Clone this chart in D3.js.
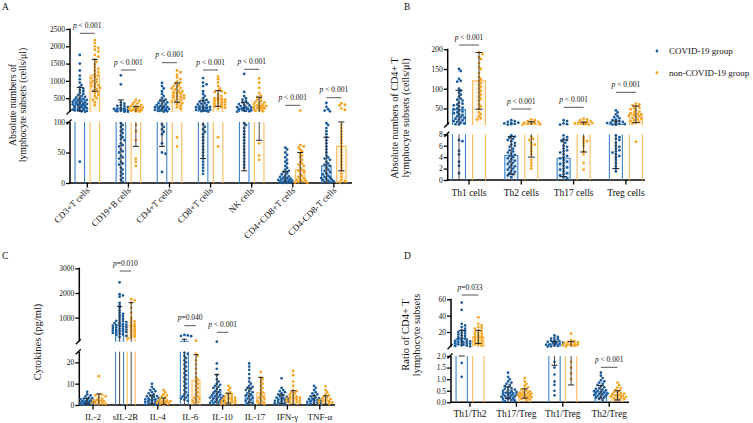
<!DOCTYPE html>
<html><head><meta charset="utf-8">
<script src="https://cdn.jsdelivr.net/npm/d3@7"></script>
<style>
body{margin:0;background:#fff}
svg{display:block}
text{font-family:"Liberation Serif","Times New Roman",serif;fill:#111}
</style>
</head><body>
<svg id="chart" width="753" height="423"></svg>
<script>
// ---------------- DATA ----------------
const groups = ["COVID-19 group", "non-COVID-19 group"];

// Panel A
const catsA = ["CD3+T cells","CD19+B cells","CD4+T cells","CD8+T cells","NK cells","CD4+CD8+T cells","CD4-CD8-T cells"];
const meanA_covid = [470, 200, 250, 240, 200, 7, 28];
const sdA_covid   = [340, 250, 190, 200, 180, 12, 47];
const meanA_non   = [1160, 160, 660, 490, 300, 22, 60];
const sdA_non     = [460, 100, 280, 226, 230, 28, 40];
const ptsA_covid = [
  [1750,1500,1300,1150,1050,950,880,820,780,740,700,660,620,590,560,540,520,500,480,460,450,440,420,400,390,380,370,360,350,340,330,320,310,300,290,280,270,260,250,240,230,220,210,200,190,180,170,160,150,140,130,120,110,35],
  [1160,900,380,340,300,280,260,240,220,200,190,180,170,160,150,140,130,120,110,105,98,95,92,88,85,82,78,75,72,70,65,62,60,55,52,50,45,42,40,35,32,30,25,22,18,15,12,8,5,2],
  [940,850,780,700,620,560,500,460,430,400,380,360,340,320,300,280,260,250,240,230,220,210,200,190,180,170,160,150,140,130,120,110,96,92,88,84,80,65,50,48,18],
  [1080,950,900,850,700,620,560,500,450,420,400,380,360,340,320,300,280,260,250,240,230,220,210,200,190,180,170,160,150,140,130,120,110,96,92,88,84,80,75,70,65,60,55,50,45,40,35,30,25,20,15],
  [1200,680,560,500,460,420,380,350,330,310,290,270,250,240,230,220,210,200,190,180,170,160,150,140,130,120,110,98,95,90,85,80,75,70,65,60,55,50,45,40,35,30,25],
  [58,55,50,46,42,38,35,32,28,25,22,20,18,16,14,12,11,10,9,8,7,6,5,5,4,4,3,3,2,2,2,1,1,1,0.5,0.5,0.3,0.2],
  [360,250,180,140,120,98,95,90,85,80,75,70,65,60,55,50,45,42,40,38,35,32,30,28,25,22,20,18,16,14,12,10,9,8,7,6,5,4,3,2,1]
];
const ptsA_non = [
  [2180,2100,2000,1950,1900,1850,1750,1700,1620,1550,1480,1400,1350,1300,1250,1200,1150,1120,1080,1050,1000,970,940,900,870,850,820,800,760,720,690,650,600,560,500,450,380,300],
  [450,420,380,350,320,300,280,260,240,230,220,210,200,190,180,170,160,150,140,130,120,110,95,85,70,40,35,28],
  [1300,1250,1180,1100,1050,980,950,920,880,850,820,800,780,750,720,700,680,650,630,600,580,560,540,520,500,480,450,420,400,380,350,320,280,240,200,75,60],
  [1130,1050,950,850,780,720,700,680,650,600,560,520,500,480,460,440,420,400,380,360,340,320,300,280,260,240,220,200,75,60],
  [1070,950,800,650,580,540,500,460,420,400,380,360,340,320,300,280,260,250,240,230,220,210,200,180,160,140,120,65,45,38],
  [140,62,60,58,55,52,48,45,42,38,35,32,30,28,25,22,20,18,15,12,10,8,6,5,4,3,2,1,0.5],
  [350,310,290,200,160,95,90,85,80,75,70,65,60,55,50,45,40,35,30,25,20,15,10,5,3,1]
];
const pTextA = ["p < 0.001","p < 0.001","p < 0.001","p < 0.001","p < 0.001","p < 0.001","p < 0.001"];

// Panel B
const catsB = ["Th1 cells","Th2 cells","Th17 cells","Treg cells"];
const meanB_covid = [47, 4.3, 3.8, 10];
const sdB_covid   = [49, 3.3, 3.2, 8];
const meanB_non   = [120, 10, 10, 35];
const sdB_non     = [72, 6, 5.1, 21];
const ptsB_covid = [
  [150,145,125,120,118,100,95,90,85,80,75,72,70,65,62,60,58,55,52,50,48,45,42,40,38,35,33,30,28,26,24,22,20,18,16,14,12,10,9,7,6.8,5.1,4.5,3.2,2.5,1.2],
  [20,18,16,14,13,12,11,10,9,7.8,7.6,7.4,7.2,7,6.8,6.5,6.2,6,5.8,5.5,5.2,5,4.8,4.6,4.4,4.2,4,3.8,3.6,3.4,3.2,3,2.8,2.6,2.4,2.2,2,1.8,1.6,1.4,1.2,1,0.8,0.5],
  [20,18,12,10,9,7.8,7.5,7.2,7,6.8,6.5,6,5.8,5.5,5.2,5,4.8,4.5,4.2,4,3.8,3.5,3.2,3,2.8,2.5,2.2,2,1.8,1.5,1.2,1,0.8,0.5,0.3],
  [45,40,35,30,28,25,22,20,18,16,15,14,13,12,11,10,9,8.5,7.8,7.5,7.2,7,6.5,6,5.8,5.5,5.2,5,4.8,4.5,4.2,4,3.5,3,2.5,2,1.5]
];
const ptsB_non = [
  [192,188,180,175,165,155,150,140,130,125,120,115,110,105,100,95,90,85,80,75,70,60,55,50,40,35,30,25,22],
  [22,20,18,16,15,14,13,12,11,10,9,7.6,7.2,7,6.5,6.2,6,5.5,5,4.5,3.5,3,2.5,2],
  [24,22,20,18,16,15,14,13,12,11,10,9,7.5,7,6.8,6.5,6,5,4.5,3,1.8],
  [62,60,58,55,52,50,48,45,42,40,38,36,35,33,32,30,28,26,24,22,20,18,16,14,12,6.7]
];
const pTextB = ["p < 0.001","p < 0.001","p < 0.001","p < 0.001"];

// Panel C
const catsC = ["IL-2","sIL-2R","IL-4","IL-6","IL-10","IL-17","IFN-γ","TNF-α"];
const meanC_covid = [1.8, 700, 2.5, 45, 6.2, 4.5, 2.8, 2.3];
const sdC_covid   = [1.3, 750, 2, 80, 8.2, 3.5, 2, 2];
const meanC_non   = [2.2, 680, 1.8, 11.6, 3.2, 5.7, 3.5, 2.3];
const sdC_non     = [3.0, 930, 1.5, 12, 2.3, 7.2, 3.2, 2];
const ptsC_covid = [
  [6.2,5,4.5,4,3.5,3.2,3,2.8,2.6,2.4,2.2,2,1.9,1.8,1.7,1.6,1.5,1.4,1.3,1.2,1.1,1,0.9,0.8,0.6,0.5,0.4,0.3,0.2],
  [2430,1950,1900,1850,1600,1500,1400,1300,1200,1150,1100,1050,1000,950,900,870,850,820,800,780,760,740,720,700,680,660,640,620,600,580,560,540,520,500,480,460,440,420,400,380,350,320,300,260,220],
  [10,8.5,7.5,7,6.5,6,5.5,5,4.5,4.2,4,3.8,3.5,3.2,3,2.8,2.6,2.4,2.2,2,1.8,1.6,1.4,1.2,1,0.8,0.6,0.4,0.2],
  [300,280,260,250,24.5,24,23,22,21,20,19,18,17,16,15,14,13,12,11,10,9,8,7,6,5,4.5,4,3.5,3,2.5,2],
  [28,19.5,17,14,12,11,10,9.5,9,8.5,8,7.5,7,6.5,6,5.5,5,4.8,4.5,4.2,4,3.8,3.5,3.2,3,2.8,2.5,2.2,2,1.8,1.5,1.2,1,0.5],
  [19.5,18,16.5,14.5,12.5,11,10,9,8.5,8,7.5,7,6.5,6,5.5,5,4.5,4,3.5,3,2.5,2,1.5,1,0.5],
  [12.5,8,7,6.5,6,5.5,5,4.5,4,3.8,3.5,3.2,3,2.8,2.5,2.2,2,1.8,1.5,1.2,1,0.8,0.5],
  [9,8,7,6,5.5,5,4.5,4,3.5,3.2,3,2.8,2.5,2.2,2,1.8,1.5,1.2,1,0.8,0.5,0.3]
];
const ptsC_non = [
  [13.5,5,4.8,4.5,4,3.5,3,2.5,2.2,2,1.8,1.5,1.2,1,0.8,0.5,0.3],
  [1750,1700,1600,1400,1200,1000,900,850,800,750,700,650,600,550,500,450,400,350,300,250,200,160],
  [7,6,5,4.5,4,3.5,3,2.5,2.2,2,1.8,1.6,1.4,1.2,1,0.8,0.6,0.4,0.2],
  [65,24,23,21,19,17,15,13,12,11,10,9,8,7,6,5,4,3.5,3,2.5,2,1.5,1],
  [9,8,7,6,5.5,5,4.5,4,3.8,3.5,3.2,3,2.8,2.5,2.2,2,1.8,1.5,1.2,1,0.8,0.5],
  [15.5,13,12,11,10,9,8,7,6,5,4,3.5,3,2.5,2,1.5,1,0.5],
  [16,14,11,9,7,6.5,6,5.5,5,4.5,4,3.8,3.5,3.2,3,2.8,2.5,2.2,2,1.8,1.5,1.2,1,0.5],
  [8.8,7,6,5,4.5,4,3.5,3,2.8,2.5,2.2,2,1.8,1.5,1.2,1,0.8,0.5]
];
const pTextC = [null,"p=0.010",null,"p=0.040","p < 0.001",null,null,null];

// Panel D
const catsD = ["Th1/Th2","Th17/Treg","Th1/Treg","Th2/Treg"];
const meanD_covid = [12, 0.42, 5, 0.45];
const sdD_covid   = [10, 0.25, 3.4, 0.27];
const meanD_non   = [14, 0.38, 4.5, 0.3];
const sdD_non     = [8, 0.2, 3.75, 0.2];
const ptsD_covid = [
  [56,47,30,28,26,24,22,21,20,19,18,17,16,15,14,13,12,11,10,9.5,9,8.5,8,7.5,7,6.5,6,5.5,5,4.5,4,3.5,3,2.5,1.7,1.1],
  [1.28,1.1,1.0,0.9,0.85,0.8,0.75,0.7,0.65,0.6,0.58,0.55,0.52,0.5,0.48,0.45,0.42,0.4,0.38,0.36,0.34,0.32,0.3,0.28,0.26,0.24,0.22,0.2,0.18,0.15,0.12,0.1,0.08,0.05],
  [16,14,13,12,11,10,9,8.5,8,7.5,7,6.5,6,5.5,5,4.5,4,3.5,3,2.5,2.2,1.75,1.5,1.2,0.9,0.75,0.5,0.3],
  [1.28,1.15,1.05,0.95,0.9,0.85,0.8,0.75,0.7,0.65,0.6,0.58,0.55,0.52,0.5,0.48,0.45,0.42,0.4,0.38,0.36,0.34,0.32,0.3,0.28,0.25,0.22,0.2,0.15,0.1]
];
const ptsD_non = [
  [38,30,28,26,25,24,22,21,20,19,18,17,16,15,14,13,12,11,10,9,8,7,6,5,4,3],
  [1.05,0.9,0.8,0.72,0.65,0.6,0.55,0.5,0.48,0.45,0.42,0.4,0.38,0.36,0.34,0.32,0.3,0.28,0.26,0.24,0.22,0.2,0.18,0.15,0.12,0.1],
  [18,10,9,8,7.5,7,6.5,6,5.5,5,4.5,4,3.5,3,2.5,1.75,1.5,1.25,1.0],
  [0.85,0.75,0.65,0.6,0.55,0.5,0.45,0.42,0.4,0.38,0.35,0.32,0.3,0.28,0.26,0.24,0.22,0.2,0.18,0.15,0.12,0.1]
];
const pTextD = ["p=0.033",null,null,"p < 0.001"];

// ---------------- STYLE / LAYOUT ----------------
const COL = {
  covid: {pt:"#1b5a9b", bar:"#3d84cb", fill:"rgba(90,150,215,0.16)"},
  non:   {pt:"#f7a21c", bar:"#fbbc5e", fill:"rgba(252,190,100,0.16)"}
};
const svg = d3.select("#chart");

function drawPanel(cfg){
  const g = svg.append("g");
  const lo = d3.scaleLinear().domain(cfg.loDom).range(cfg.loRange);
  const hi = d3.scaleLinear().domain(cfg.hiDom).range(cfg.hiRange);
  const loMax = cfg.loDom[1], hiMin = cfg.hiDom[0];
  const yv = v => v <= loMax ? lo(v) : hi(Math.max(v, hiMin));
  const n = cfg.cats.length;
  const x = d3.scaleLinear().domain([0, n-1]).range([cfg.cat0, cfg.cat0 + cfg.step*(n-1)]);
  const bw = cfg.barW, off = cfg.off;

  // axes
  const yAxLo = d3.axisLeft(lo).tickValues(cfg.loTicks).tickSize(4).tickFormat(cfg.fmt || d3.format("d"));
  const yAxHi = d3.axisLeft(hi).tickValues(cfg.hiTicks).tickSize(4).tickFormat(d3.format("d"));
  [yAxLo, yAxHi].forEach(ax=>{
    const a = g.append("g").attr("transform",`translate(${cfg.axisX},0)`).call(ax);
    a.attr("font-family",null);
    a.select(".domain").remove();
    a.selectAll(".tick line").attr("stroke","#000").attr("stroke-width",1.3);
    a.selectAll(".tick text").attr("font-size",7.5).attr("x",-5).attr("fill","#111");
  });
  // axis lines (broken)
  g.append("line").attr("x1",cfg.axisX).attr("x2",cfg.axisX).attr("y1",cfg.loRange[0]+0.6).attr("y2",cfg.loRange[1]).attr("stroke","#000").attr("stroke-width",1.5);
  g.append("line").attr("x1",cfg.axisX).attr("x2",cfg.axisX).attr("y1",cfg.hiRange[0]).attr("y2",cfg.hiRange[1]-0.6).attr("stroke","#000").attr("stroke-width",1.5);
  // break marks
  [cfg.loRange[1], cfg.hiRange[0]].forEach(yy=>{
    g.append("line").attr("x1",cfg.axisX-3.5).attr("y1",yy+2.5).attr("x2",cfg.axisX+1.5).attr("y2",yy-2.5)
      .attr("stroke","#000").attr("stroke-width",1.3);
  });
  // x axis
  g.append("line").attr("x1",cfg.axisX-0.75).attr("x2",cfg.xEnd).attr("y1",cfg.loRange[0]).attr("y2",cfg.loRange[0]).attr("stroke","#000").attr("stroke-width",1.5);
  cfg.cats.forEach((c,i)=>{
    g.append("line").attr("x1",x(i)).attr("x2",x(i)).attr("y1",cfg.loRange[0]).attr("y2",cfg.loRange[0]+4.5).attr("stroke","#000").attr("stroke-width",1.3);
    const t = g.append("text").text(c).attr("font-size",cfg.xFont);
    if(cfg.rotate){
      t.attr("text-anchor","end").attr("transform",`translate(${x(i)+3},${cfg.loRange[0]+8}) rotate(-45)`);
    } else {
      t.attr("text-anchor","middle").attr("x",x(i)).attr("y",cfg.xLabY);
    }
  });

  // bars, points, error bars
  const sets = [
    {key:"covid", means:cfg.mc, sds:cfg.sc, pts:cfg.pc, dx:-off},
    {key:"non", means:cfg.mn, sds:cfg.sn, pts:cfg.pn, dx:off}
  ];
  const barsG = g.append("g"), ptsG = g.append("g"), errG = g.append("g");
  sets.forEach(s=>{
    const col = COL[s.key];
    cfg.cats.forEach((c,i)=>{
      const cx = x(i) + s.dx, m = s.means[i], sd = s.sds[i];
      const L = cx - bw/2, R = cx + bw/2;
      // lower part
      const topLo = Math.min(m, loMax);
      if(m <= loMax){
        barsG.append("rect").attr("x",L).attr("y",lo(topLo)).attr("width",bw).attr("height",lo(0)-lo(topLo)).attr("fill",col.fill);
      }
      const pathLo = m <= loMax ? `M${L},${lo(0)}V${lo(topLo)}H${R}V${lo(0)}` : `M${L},${lo(0)}V${lo(loMax)}M${R},${lo(0)}V${lo(loMax)}`;
      barsG.append("path").attr("d",pathLo).attr("fill","none").attr("stroke",col.bar).attr("stroke-width",1.1);
      if(m > loMax){
        barsG.append("rect").attr("x",L).attr("y",hi(m)).attr("width",bw).attr("height",hi(hiMin)-hi(m)).attr("fill",col.fill);
        barsG.append("path").attr("d",`M${L},${hi(hiMin)}V${hi(m)}H${R}V${hi(hiMin)}`).attr("fill","none").attr("stroke",col.bar).attr("stroke-width",1.1);
      }
      // points (deterministic beeswarm)
      const r = cfg.r;
      const items = s.pts[i].map(v=>({v, y:yv(v)})).sort((a,b)=>a.y-b.y);
      const placed = [];
      const stepX = r*1.25, maxK = Math.floor(cfg.spread/stepX)*2;
      items.forEach(it=>{
        let best = 0, bestC = Infinity;
        for(let k=0;k<=maxK;k++){
          const o = (k%2 ? 1 : -1)*Math.ceil(k/2)*stepX;
          let cnt = 0;
          for(const p of placed){ const ddx=p.x-(cx+o), ddy=p.y-it.y; if(ddx*ddx+ddy*ddy < (1.8*r)*(1.8*r)) cnt++; }
          if(cnt===0){best=o;bestC=0;break;}
          if(cnt<bestC){bestC=cnt;best=o;}
        }
        it.x = cx + best; placed.push(it);
      });
      ptsG.selectAll(null).data(placed).enter().append("circle")
        .attr("cx",d=>d.x).attr("cy",d=>d.y).attr("r",r).attr("fill",col.pt);
      // error bars
      const lowV = m - sd, highV = m + sd;
      const cw = cfg.capW;
      const drawSeg = (y1,y2)=>errG.append("line").attr("x1",cx).attr("x2",cx).attr("y1",y1).attr("y2",y2).attr("stroke","#333").attr("stroke-width",0.9);
      const drawCap = (yy)=>errG.append("line").attr("x1",cx-cw/2).attr("x2",cx+cw/2).attr("y1",yy).attr("y2",yy).attr("stroke","#222").attr("stroke-width",1);
      const lv = Math.max(lowV, 0);
      if(lv < loMax){ drawSeg(lo(lv), lo(Math.min(highV, loMax))); }
      if(highV > hiMin){ drawSeg(hi(Math.max(lv, hiMin)), hi(highV)); }
      drawCap(yv(highV));
      if(lowV > 0) drawCap(yv(lowV));
    });
  });

  // p-value annotations
  cfg.pText.forEach((t,i)=>{
    if(!t) return;
    const ly = cfg.pLineY[i];
    g.append("line").attr("x1",x(i)-off).attr("x2",x(i)+off).attr("y1",ly).attr("y2",ly).attr("stroke","#444").attr("stroke-width",0.9);
    const tx = g.append("text").attr("x",x(i)).attr("y",ly-5.5).attr("text-anchor","middle").attr("font-size",7.5);
    tx.append("tspan").attr("font-style","italic").text("p");
    tx.append("tspan").text(t.slice(1));
  });

  // y title
  const tg = g.append("text").attr("transform",`translate(${cfg.titleX},${cfg.titleY}) rotate(-90)`).attr("text-anchor","middle").attr("font-size",cfg.titleFont);
  cfg.title.forEach((line,k)=>{
    tg.append("tspan").attr("x",0).attr("dy", k===0 ? (-(cfg.title.length-1)*cfg.titleLH/2 + 3.5) : cfg.titleLH).text(line);
  });
  // panel letter
  g.append("text").attr("x",cfg.letterX).attr("y",cfg.letterY).attr("font-size",9.5).text(cfg.letter);
}

drawPanel({
  cats:catsA, mc:meanA_covid, sc:sdA_covid, mn:meanA_non, sn:sdA_non, pc:ptsA_covid, pn:ptsA_non, pText:pTextA,
  pLineY:[33.3,70,62.7,70,69.3,105.3,97.7],
  loDom:[0,100], loRange:[183,122], hiDom:[100,2500], hiRange:[112,29],
  loTicks:[0,50,100], hiTicks:[500,1000,1500,2000,2500],
  axisX:70, xEnd:352, cat0:87.3, step:41.1, barW:9.5, off:7.5, capW:6, r:1.4, spread:8,
  rotate:true, xFont:9,
  title:["Absolute numbers of","lymphocyte subsets (cells/μl)"], titleX:17.5, titleY:105, titleFont:9.8, titleLH:10,
  letter:"A", letterX:2, letterY:10
});
drawPanel({
  cats:catsB, mc:meanB_covid, sc:sdB_covid, mn:meanB_non, sn:sdB_non, pc:ptsB_covid, pn:ptsB_non, pText:pTextB,
  pLineY:[45,109,107.3,92.3],
  loDom:[0,8], loRange:[180,134.3], hiDom:[8,200], hiRange:[125,49.3],
  loTicks:[0,2,4,6,8], hiTicks:[50,100,150,200],
  axisX:447.7, xEnd:645, cat0:469, step:52.3, barW:13, off:10, capW:7, r:1.4, spread:9,
  rotate:false, xFont:9.5, xLabY:196,
  title:["Absolute numbers of CD4+ T","lymphocyte subsets (cells/μl)"], titleX:400, titleY:118, titleFont:10.2, titleLH:10.2,
  letter:"B", letterX:404, letterY:10
});
drawPanel({
  cats:catsC, mc:meanC_covid, sc:sdC_covid, mn:meanC_non, sn:sdC_non, pc:ptsC_covid, pn:ptsC_non, pText:pTextC,
  pLineY:[null,271,null,325.7,332.3,null,null,null],
  loDom:[0,25], loRange:[405,351.7], hiDom:[25,3000], hiRange:[341.7,268.3],
  loTicks:[0,10,20], hiTicks:[1000,2000,3000],
  axisX:79.3, xEnd:335, cat0:93, step:32.4, barW:8, off:5.8, capW:5, r:1.35, spread:7,
  rotate:false, xFont:9, xLabY:420,
  title:["Cytokines (pg/ml)"], titleX:37, titleY:342, titleFont:10.5, titleLH:10,
  letter:"C", letterX:2, letterY:259
});
drawPanel({
  cats:catsD, mc:meanD_covid, sc:sdD_covid, mn:meanD_non, sn:sdD_non, pc:ptsD_covid, pn:ptsD_non, pText:pTextD,
  pLineY:[295,null,null,367.3],
  loDom:[0,2], loRange:[402.3,356], hiDom:[2,60], hiRange:[346.7,299.3],
  loTicks:[0,0.5,1,1.5,2], hiTicks:[20,40,60], fmt:d3.format(".1f"),
  axisX:451, xEnd:629, cat0:470, step:46.4, barW:11.3, off:8.3, capW:6, r:1.35, spread:8.5,
  rotate:false, xFont:9.5, xLabY:416.5,
  title:["Ratio of CD4+ T","lymphocyte subsets"], titleX:411, titleY:335, titleFont:10.5, titleLH:11,
  letter:"D", letterX:404, letterY:259
});

// legend
const leg = svg.append("g");
groups.forEach((gname,k)=>{
  const col = k===0 ? COL.covid : COL.non;
  const yy = 51 + k*21.7;
  leg.append("circle").attr("cx",657).attr("cy",yy).attr("r",1.4).attr("fill",col.pt);
  leg.append("text").attr("x",669).attr("y",yy+3).attr("font-size",9).text(gname);
});
</script>
</body></html>
